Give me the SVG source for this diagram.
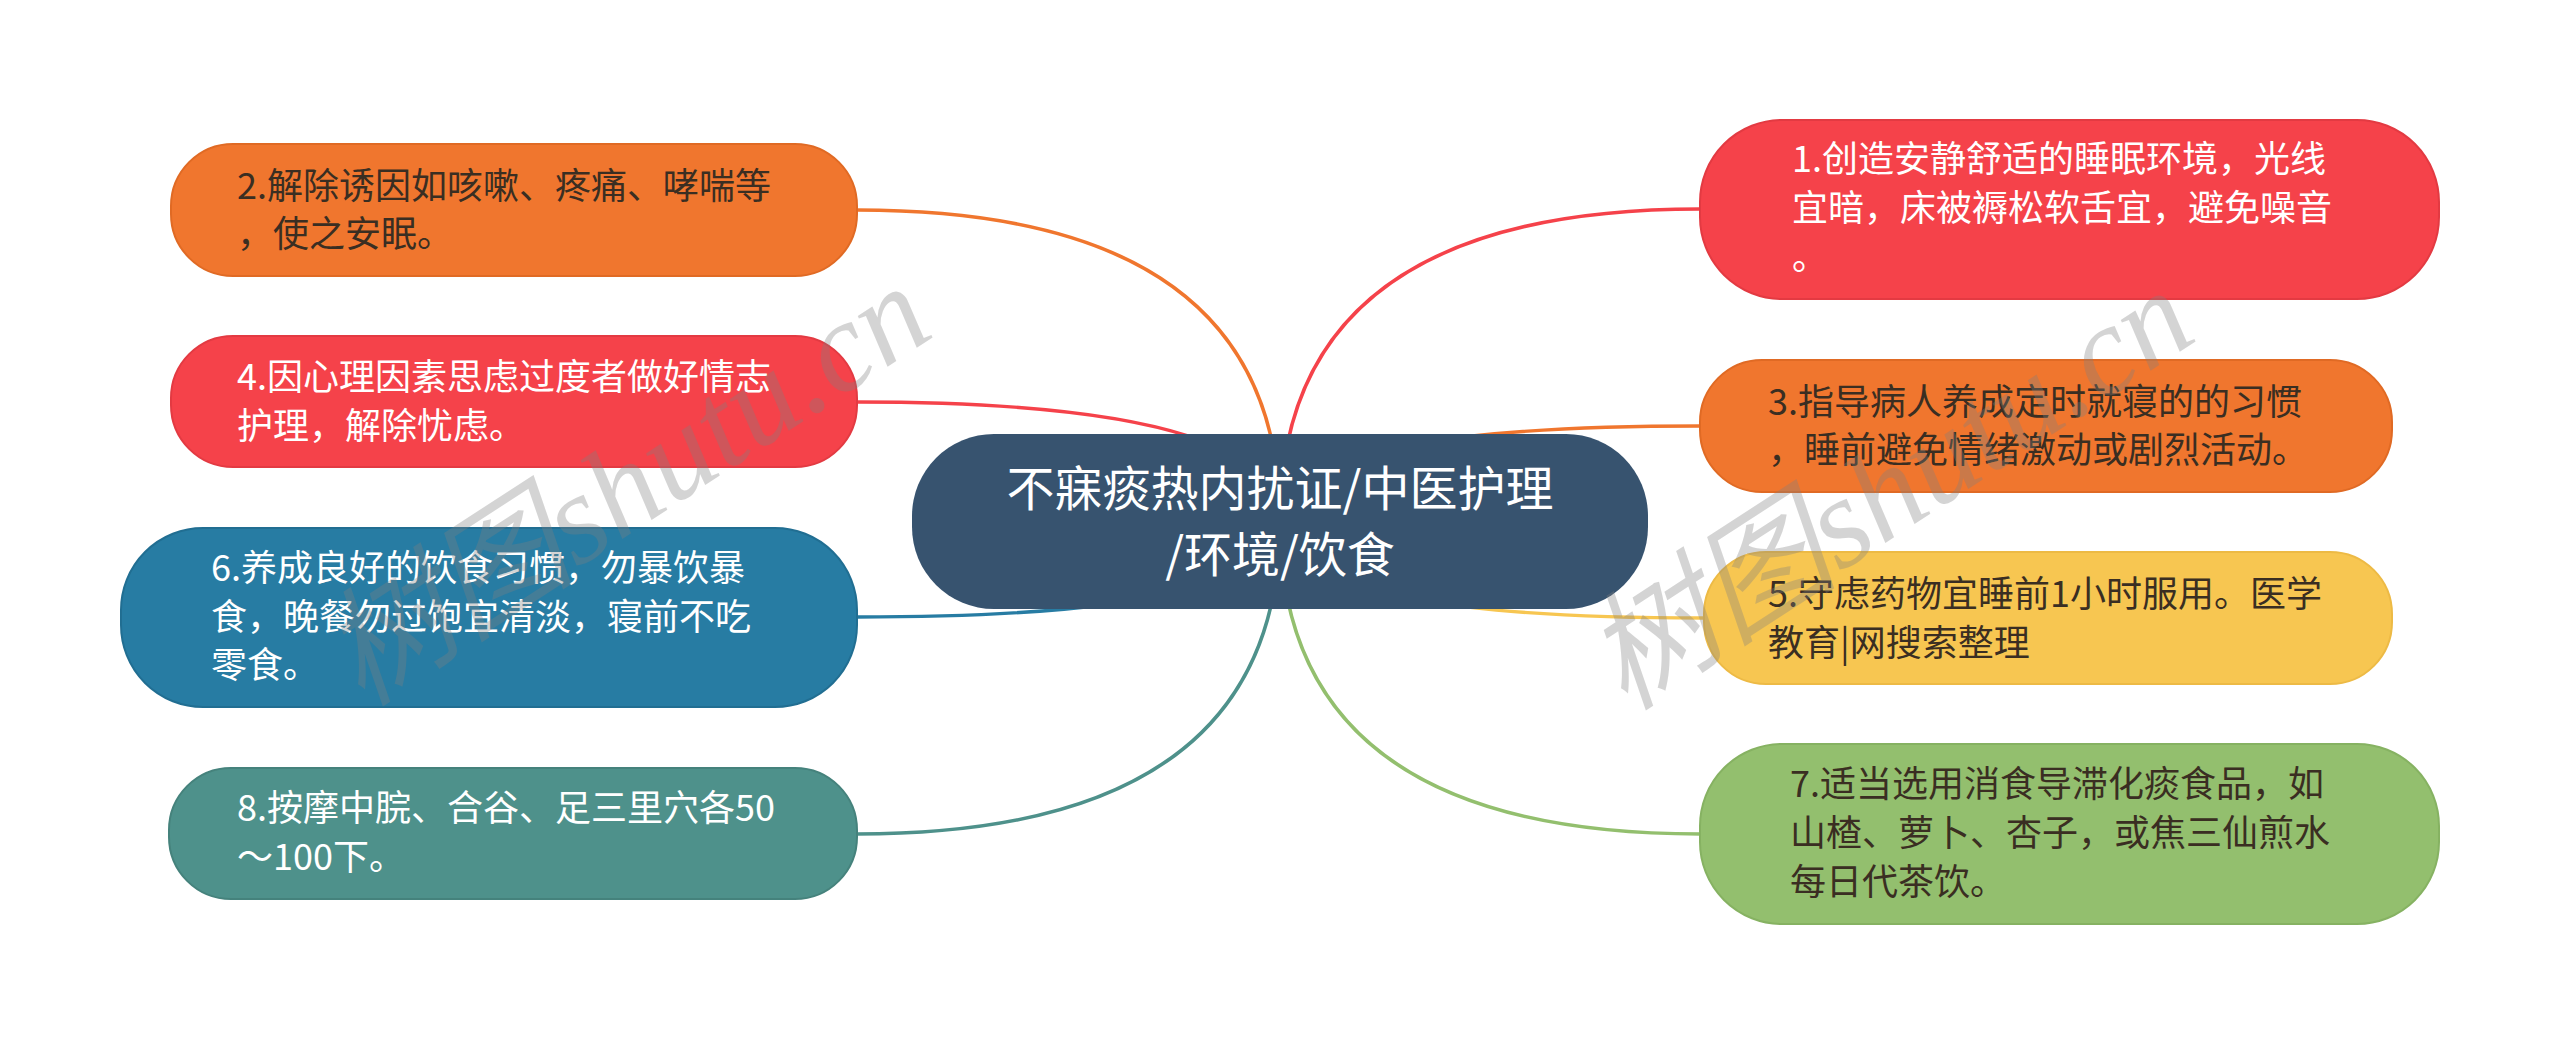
<svg xmlns="http://www.w3.org/2000/svg" width="2560" height="1044" viewBox="0 0 2560 1044">
<style>
  .t { font-family: "Noto Sans CJK SC", "Microsoft YaHei", sans-serif; font-size: 36px; }
  .w { fill: #ffffff; }
  .d { fill: #3a2e22; }
  .c { font-family: "Noto Sans CJK SC", sans-serif; font-size: 48px; fill: #ffffff; text-anchor: middle; }
  .e { fill: none; stroke-width: 3.5; stroke-linecap: round; }
  .wm { font-family: "Liberation Serif", "Noto Sans CJK SC", serif; font-style: italic; font-size: 128px; fill: #808080; opacity: 0.33; }
</style>
<rect width="2560" height="1044" fill="#ffffff"/>
<g id="connectors">
  <path class="e" stroke="#F0762E" d="M1280,521 Q1280,210 857,210"/>
  <path class="e" stroke="#F5424A" d="M1280,521 Q1280,402 857,402"/>
  <path class="e" stroke="#277CA3" d="M1280,521 Q1280,617 857,617"/>
  <path class="e" stroke="#4E918B" d="M1280,521 Q1280,834 857,834"/>
  <path class="e" stroke="#F5424A" d="M1280,521 Q1280,209 1700,209"/>
  <path class="e" stroke="#F0762E" d="M1280,521 Q1280,426 1700,426"/>
  <path class="e" stroke="#F7C651" d="M1280,521 Q1280,618 1704,618"/>
  <path class="e" stroke="#93BF6E" d="M1280,521 Q1280,834 1700,834"/>
</g>
<g id="center">
  <rect x="912" y="434" width="736" height="175" rx="82" ry="82" fill="#37536F"/>
  <text class="c" x="1280" y="506">不寐痰热内扰证/中医护理</text>
  <text class="c" x="1280" y="572">/环境/饮食</text>
</g>
<g id="n2">
  <rect x="171" y="144" width="686" height="132" rx="62" ry="62" fill="#F0762E" stroke="#E06A24" stroke-width="2"/>
  <text class="t d" x="237" y="199">2.解除诱因如咳嗽、疼痛、哮喘等</text>
  <text class="t d" x="237" y="247">，使之安眠。</text>
</g>
<g id="n4">
  <rect x="171" y="336" width="686" height="131" rx="62" ry="62" fill="#F5424A" stroke="#E33A42" stroke-width="2"/>
  <text class="t w" x="237" y="390">4.因心理因素思虑过度者做好情志</text>
  <text class="t w" x="237" y="439">护理，解除忧虑。</text>
</g>
<g id="n6">
  <rect x="121" y="528" width="736" height="179" rx="82" ry="82" fill="#277CA3" stroke="#216E92" stroke-width="2"/>
  <text class="t w" x="211" y="581">6.养成良好的饮食习惯，勿暴饮暴</text>
  <text class="t w" x="211" y="630">食，晚餐勿过饱宜清淡，寝前不吃</text>
  <text class="t w" x="211" y="678">零食。</text>
</g>
<g id="n8">
  <rect x="169" y="768" width="688" height="131" rx="62" ry="62" fill="#4E918B" stroke="#45827C" stroke-width="2"/>
  <text class="t w" x="237" y="821">8.按摩中脘、合谷、足三里穴各50</text>
  <text class="t w" x="237" y="870">～100下。</text>
</g>
<g id="n1">
  <rect x="1700" y="120" width="739" height="179" rx="82" ry="82" fill="#F5424A" stroke="#E33A42" stroke-width="2"/>
  <text class="t w" x="1792" y="172">1.创造安静舒适的睡眠环境，光线</text>
  <text class="t w" x="1792" y="221">宜暗，床被褥松软舌宜，避免噪音</text>
  <text class="t w" x="1792" y="270">。</text>
</g>
<g id="n3">
  <rect x="1700" y="360" width="692" height="132" rx="62" ry="62" fill="#F0762E" stroke="#E06A24" stroke-width="2"/>
  <text class="t d" x="1768" y="415">3.指导病人养成定时就寝的的习惯</text>
  <text class="t d" x="1768" y="463">，睡前避免情绪激动或剧烈活动。</text>
</g>
<g id="n5">
  <rect x="1704" y="552" width="688" height="132" rx="62" ry="62" fill="#F7C651" stroke="#EDBA45" stroke-width="2"/>
  <text class="t d" x="1768" y="607">5.守虑药物宜睡前1小时服用。医学</text>
  <text class="t d" x="1768" y="656">教育|网搜索整理</text>
</g>
<g id="n7">
  <rect x="1700" y="744" width="739" height="180" rx="82" ry="82" fill="#93BF6E" stroke="#86B262" stroke-width="2"/>
  <text class="t d" x="1790" y="797">7.适当选用消食导滞化痰食品，如</text>
  <text class="t d" x="1790" y="846">山楂、萝卜、杏子，或焦三仙煎水</text>
  <text class="t d" x="1790" y="895">每日代茶饮。</text>
</g>
<g id="watermarks">
  <text class="wm" transform="translate(362,708) rotate(-33)">树图shutu.cn</text>
  <text class="wm" transform="translate(1625,712) rotate(-33)">树图shutu.cn</text>
</g>
</svg>
